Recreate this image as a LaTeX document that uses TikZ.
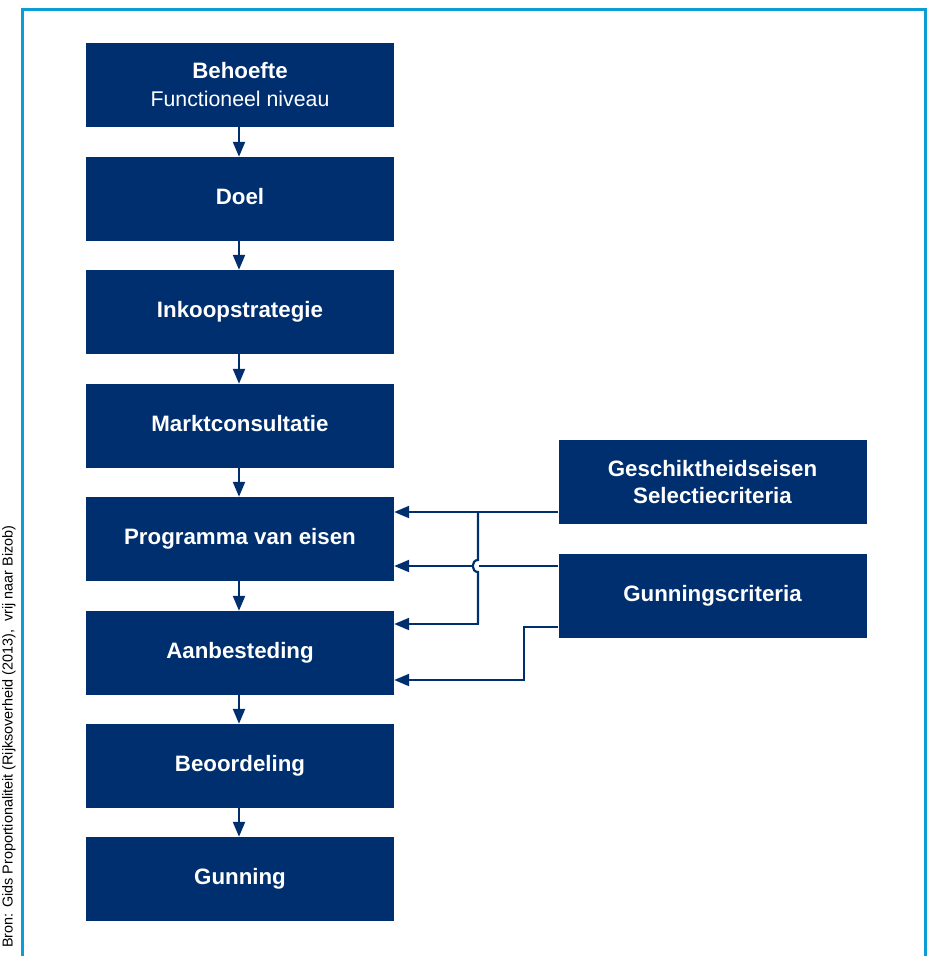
\documentclass[tikz,border=0pt]{standalone}
\usepackage{fontspec}
\setmainfont{Liberation Sans}
\usetikzlibrary{arrows.meta,calc}
\definecolor{navy}{HTML}{002F6F}
\definecolor{frame}{HTML}{0B9DD3}
\tikzset{
  box/.style={draw=none,fill=navy,text=white,minimum width=308pt,minimum height=84pt,inner sep=0pt,align=center,font=\fontsize{22.3}{27}\selectfont\bfseries},
  one/.style={text height=16pt,text depth=6pt},
  arr/.style={draw=navy,line width=2.2pt,-{Triangle[length=15pt,width=12pt]}},
  ln/.style={draw=navy,line width=2.2pt}
}
\begin{document}
\begin{tikzpicture}[x=1pt,y=-1pt]
\useasboundingbox (0,0) rectangle (932,956);
\draw[frame,line width=3pt] (22.5,957) -- (22.5,9.5) -- (925.5,9.5) -- (925.5,957);
\node[rotate=90,font=\fontsize{14.4}{16}\selectfont] (src) at (9,736.5) {Bron: Gids Proportionaliteit (Rijksoverheid (2013),\ \ vrij naar Bizob)};
\node[box] (beh) at (240,85) {Behoefte\\[1pt]{\fontsize{21.3}{27}\selectfont\mdseries Functioneel niveau}};
\node[box,one] (doel) at (240,199) {Doel};
\node[box,one] (ink) at (240,312) {Inkoopstrategie};
\node[box,one] (mark) at (240,426) {Marktconsultatie};
\node[box,one] (pve) at (240,539) {Programma van eisen};
\node[box,one] (aan) at (240,653) {Aanbesteding};
\node[box,one] (beo) at (240,766) {Beoordeling};
\node[box,one] (gun) at (240,879) {Gunning};
\node[box] (geo) at (712.5,482) {Geschiktheidseisen\\Selectiecriteria};
\node[box,one] (gcr) at (712.5,596) {Gunningscriteria};
\foreach \a/\b in {beh/doel,doel/ink,ink/mark,mark/pve,pve/aan,aan/beo,beo/gun}
  \draw[arr] ([xshift=-1pt]\a.south) -- ([xshift=-1pt]\b.north);
% Geschiktheidseisen connectors
\coordinate (g1) at ([yshift=-30pt]geo.west);
\coordinate (j) at (478,512);
\draw[arr] (g1) -- (g1 -| pve.east);
\draw[ln] (j) -- (478,560) .. controls (471,560) and (471,572) .. (478,572) -- (478,624);
\coordinate (j2) at (478,624);
\draw[arr] ([xshift=1.1pt]j2) -- (j2 -| aan.east);
% Gunningscriteria connectors
\coordinate (g2) at ([yshift=30pt]gcr.west);
\draw[ln] (g2) -- (479,566);
\coordinate (h) at (472,566);
\draw[arr] (h) -- (h -| pve.east);
\coordinate (g3) at ([yshift=-31pt]gcr.west);
\coordinate (k) at (524,680);
\draw[arr] (g3) -| (k) -- (k -| aan.east);
\end{tikzpicture}
\end{document}
